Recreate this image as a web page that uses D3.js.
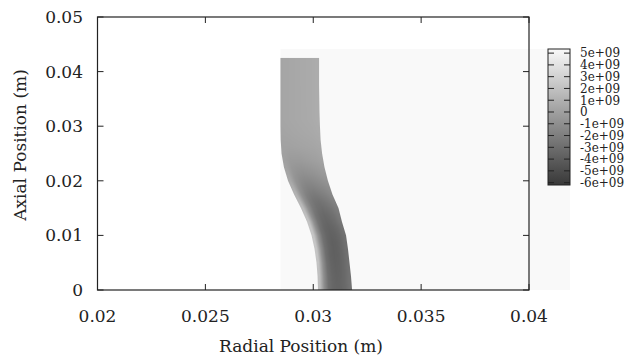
<!DOCTYPE html>
<html>
<head>
<meta charset="utf-8">
<script src="https://cdn.jsdelivr.net/npm/d3@7"></script>
<style>
  body { margin: 0; background: #fff; }
  svg text { font-family: "DejaVu Serif", serif; }
</style>
</head>
<body>
<div id="chart"></div>
<script>
// axis ticks
var xTicks = [0.02, 0.025, 0.03, 0.035, 0.04];
var xTickLabels = ["0.02", "0.025", "0.03", "0.035", "0.04"];
var yTicks = [0, 0.01, 0.02, 0.03, 0.04, 0.05];
var yTickLabels = ["0", "0.01", "0.02", "0.03", "0.04", "0.05"];

// colour bar (values in units of 1e9)
var cbRange = [-6.2, 5.35];
var cbTicks = [5, 4, 3, 2, 1, 0, -1, -2, -3, -4, -5, -6];
var cbTickLabels = ["5e+09", "4e+09", "3e+09", "2e+09", "1e+09", "0",
                    "-1e+09", "-2e+09", "-3e+09", "-4e+09", "-5e+09", "-6e+09"];

// mesh domain (background field)
var domainR = [0.02848, 0.0419];
var domainZ = [0, 0.04414];
var domainValue = 5.35;

// tube wall: row heights (m) and wall edges (m) at each row
var rowZ = [0, 0.0025, 0.005, 0.0075, 0.01, 0.0125, 0.015, 0.0175, 0.02,
            0.0225, 0.025, 0.0275, 0.03, 0.0325, 0.035, 0.0375, 0.04, 0.0425];
var innerR = [0.03022, 0.03020, 0.03015, 0.03006, 0.02992, 0.02971, 0.02943, 0.02911, 0.02883,
              0.02864, 0.02853, 0.02849, 0.02848, 0.02848, 0.02848, 0.02848, 0.02848, 0.02848];
var outerR = [0.03180, 0.03175, 0.03168, 0.03161, 0.03152, 0.03133, 0.03117, 0.03089, 0.03068,
              0.03052, 0.03041, 0.03034, 0.03031, 0.03029, 0.03028, 0.03027, 0.03027, 0.03027];

// stress in the wall, bottom row first, inner to outer (1e9)
var wallStress = [
  [1.8, -1.1, -2.9, -3.4, -3.6, -3.5, -3.2, -2.7],
  [2.0, -1.0, -2.9, -3.5, -3.7, -3.6, -3.3, -2.8],
  [2.2, -0.9, -2.9, -3.6, -3.8, -3.7, -3.4, -2.9],
  [2.3, -0.8, -2.8, -3.5, -3.8, -3.7, -3.4, -2.9],
  [2.2, -0.8, -2.7, -3.4, -3.6, -3.5, -3.2, -2.7],
  [1.9, -0.9, -2.5, -3.1, -3.3, -3.1, -2.8, -2.3],
  [1.4, -0.9, -2.1, -2.6, -2.7, -2.5, -2.2, -1.8],
  [0.8, -0.8, -1.5, -1.8, -1.8, -1.6, -1.4, -1.1],
  [0.3, -0.6, -0.9, -1.0, -0.9, -0.8, -0.6, -0.4],
  [0.0, -0.3, -0.3, -0.3, -0.2, -0.1, 0.0, 0.15],
  [0.1, 0.1, 0.15, 0.2, 0.25, 0.3, 0.35, 0.45],
  [0.25, 0.3, 0.35, 0.4, 0.45, 0.5, 0.55, 0.65],
  [0.35, 0.4, 0.45, 0.5, 0.55, 0.6, 0.65, 0.75],
  [0.35, 0.4, 0.45, 0.5, 0.55, 0.6, 0.65, 0.75],
  [0.35, 0.4, 0.45, 0.5, 0.55, 0.6, 0.65, 0.75],
  [0.35, 0.4, 0.45, 0.5, 0.55, 0.6, 0.65, 0.75],
  [0.35, 0.4, 0.45, 0.5, 0.55, 0.6, 0.65, 0.75]
];

var w = 628, h = 359;
var plotL = 97.5, plotR = 529, plotT = 17, plotB = 290;

var svg = d3.select("#chart").append("svg")
    .attr("width", w)
    .attr("height", h);

var xScale = d3.scaleLinear().domain([0.02, 0.04]).range([plotL, plotR]);
var yScale = d3.scaleLinear().domain([0, 0.05]).range([plotB, plotT]);

var color = d3.scaleLinear().domain(cbRange).range(["#383838", "#f9f9f9"]).clamp(true);

// background field
svg.append("rect")
    .attr("x", xScale(domainR[0]))
    .attr("y", yScale(domainZ[1]))
    .attr("width", xScale(domainR[1]) - xScale(domainR[0]))
    .attr("height", yScale(domainZ[0]) - yScale(domainZ[1]))
    .attr("fill", color(domainValue));

// wall: smooth shading between cell centres, rendered to a bitmap
var nRows = wallStress.length, nCols = wallStress[0].length;
var zTop = rowZ[rowZ.length - 1];
var x0 = Math.floor(xScale(d3.min(innerR))), x1 = Math.ceil(xScale(d3.max(outerR)));
var y0 = Math.floor(yScale(zTop)), y1 = Math.ceil(yScale(0));
var cw = x1 - x0, ch = y1 - y0;
var canvas = document.createElement("canvas");
canvas.width = cw; canvas.height = ch;
var ctx = canvas.getContext("2d");
var img = ctx.createImageData(cw, ch);

function stressAt(fi, fj) {
  fi = Math.max(0, Math.min(nRows - 1, fi));
  fj = Math.max(0, Math.min(nCols - 1, fj));
  var i0 = Math.floor(fi), j0 = Math.floor(fj);
  var i1 = Math.min(i0 + 1, nRows - 1), j1 = Math.min(j0 + 1, nCols - 1);
  var a = fi - i0, b = fj - j0;
  return (1 - a) * ((1 - b) * wallStress[i0][j0] + b * wallStress[i0][j1]) +
         a * ((1 - b) * wallStress[i1][j0] + b * wallStress[i1][j1]);
}

for (var py = 0; py < ch; py++) {
  var z = yScale.invert(y0 + py + 0.5);
  if (z < 0) continue;
  var vy = Math.max(0, Math.min(1, (y0 + py + 1) - yScale(zTop)));
  if (vy <= 0) continue;
  var zc = Math.min(z, zTop);
  var i = d3.bisectRight(rowZ, zc) - 1;
  if (i >= nRows) i = nRows - 1;
  var t = (zc - rowZ[i]) / (rowZ[i + 1] - rowZ[i]);
  var rIn = innerR[i] + (innerR[i + 1] - innerR[i]) * t;
  var rOut = outerR[i] + (outerR[i + 1] - outerR[i]) * t;
  var pxIn = xScale(rIn), pxOut = xScale(rOut);
  for (var px = 0; px < cw; px++) {
    var gx = x0 + px;
    var cov = Math.min(gx + 1, pxOut) - Math.max(gx, pxIn);
    if (cov <= 0) continue;
    cov = Math.min(1, cov) * vy;
    var s = (xScale.invert(gx + 0.5) - rIn) / (rOut - rIn);
    var v = stressAt(i + t - 0.5, s * nCols - 0.5);
    var c = d3.rgb(color(v));
    var k = (py * cw + px) * 4;
    img.data[k] = c.r; img.data[k + 1] = c.g; img.data[k + 2] = c.b;
    img.data[k + 3] = Math.round(cov * 255);
  }
}
ctx.putImageData(img, 0, 0);

svg.append("image")
    .attr("x", x0).attr("y", y0)
    .attr("width", cw).attr("height", ch)
    .attr("href", canvas.toDataURL());

// frame and ticks
var frame = svg.append("g").attr("stroke", "#222");
frame.append("rect")
    .attr("x", plotL).attr("y", plotT)
    .attr("width", plotR - plotL).attr("height", plotB - plotT)
    .attr("fill", "none").attr("stroke-width", 1.2);

xTicks.forEach(function(t) {
  frame.append("line").attr("x1", xScale(t)).attr("x2", xScale(t))
      .attr("y1", plotB).attr("y2", plotB - 6);
  frame.append("line").attr("x1", xScale(t)).attr("x2", xScale(t))
      .attr("y1", plotT).attr("y2", plotT + 6);
});
yTicks.forEach(function(t) {
  frame.append("line").attr("x1", plotL).attr("x2", plotL + 6)
      .attr("y1", yScale(t)).attr("y2", yScale(t));
  frame.append("line").attr("x1", plotR).attr("x2", plotR - 6)
      .attr("y1", yScale(t)).attr("y2", yScale(t));
});

svg.selectAll(".xlab")
    .data(xTicks)
    .enter()
    .append("text")
    .attr("class", "xlab")
    .attr("x", function(d) { return xScale(d); })
    .attr("y", 322)
    .attr("text-anchor", "middle")
    .attr("font-size", 17)
    .attr("fill", "#222")
    .text(function(d, i) { return xTickLabels[i]; });

svg.selectAll(".ylab")
    .data(yTicks)
    .enter()
    .append("text")
    .attr("class", "ylab")
    .attr("x", 83)
    .attr("y", function(d) { return yScale(d) + 6; })
    .attr("text-anchor", "end")
    .attr("font-size", 17)
    .attr("fill", "#222")
    .text(function(d, i) { return yTickLabels[i]; });

svg.append("text")
    .attr("x", 301)
    .attr("y", 352)
    .attr("text-anchor", "middle")
    .attr("font-size", 17)
    .attr("fill", "#222")
    .text("Radial Position (m)");

svg.append("text")
    .attr("transform", "translate(26,145) rotate(-90)")
    .attr("text-anchor", "middle")
    .attr("font-size", 17)
    .attr("fill", "#222")
    .text("Axial Position (m)");

// colour bar
var cbL = 548, cbR = 570, cbT = 49, cbB = 185;
var cbScale = d3.scaleLinear().domain(cbRange).range([cbB, cbT]);

var grad = svg.append("defs").append("linearGradient")
    .attr("id", "cbgrad")
    .attr("x1", 0).attr("y1", 1).attr("x2", 0).attr("y2", 0);
grad.append("stop").attr("offset", 0).attr("stop-color", color(cbRange[0]));
grad.append("stop").attr("offset", 1).attr("stop-color", color(cbRange[1]));

svg.append("rect")
    .attr("x", cbL).attr("y", cbT)
    .attr("width", cbR - cbL).attr("height", cbB - cbT)
    .attr("fill", "url(#cbgrad)")
    .attr("stroke", "#222").attr("stroke-width", 1);

cbTicks.forEach(function(t, i) {
  var y = cbScale(t);
  svg.append("line").attr("x1", cbL).attr("x2", cbL + 6)
      .attr("y1", y).attr("y2", y).attr("stroke", "#222");
  svg.append("line").attr("x1", cbR).attr("x2", cbR - 6)
      .attr("y1", y).attr("y2", y).attr("stroke", "#222");
  svg.append("text")
      .attr("x", 580)
      .attr("y", y + 4.3)
      .attr("font-size", 12)
      .attr("fill", "#222")
      .text(cbTickLabels[i]);
});
</script>
</body>
</html>
